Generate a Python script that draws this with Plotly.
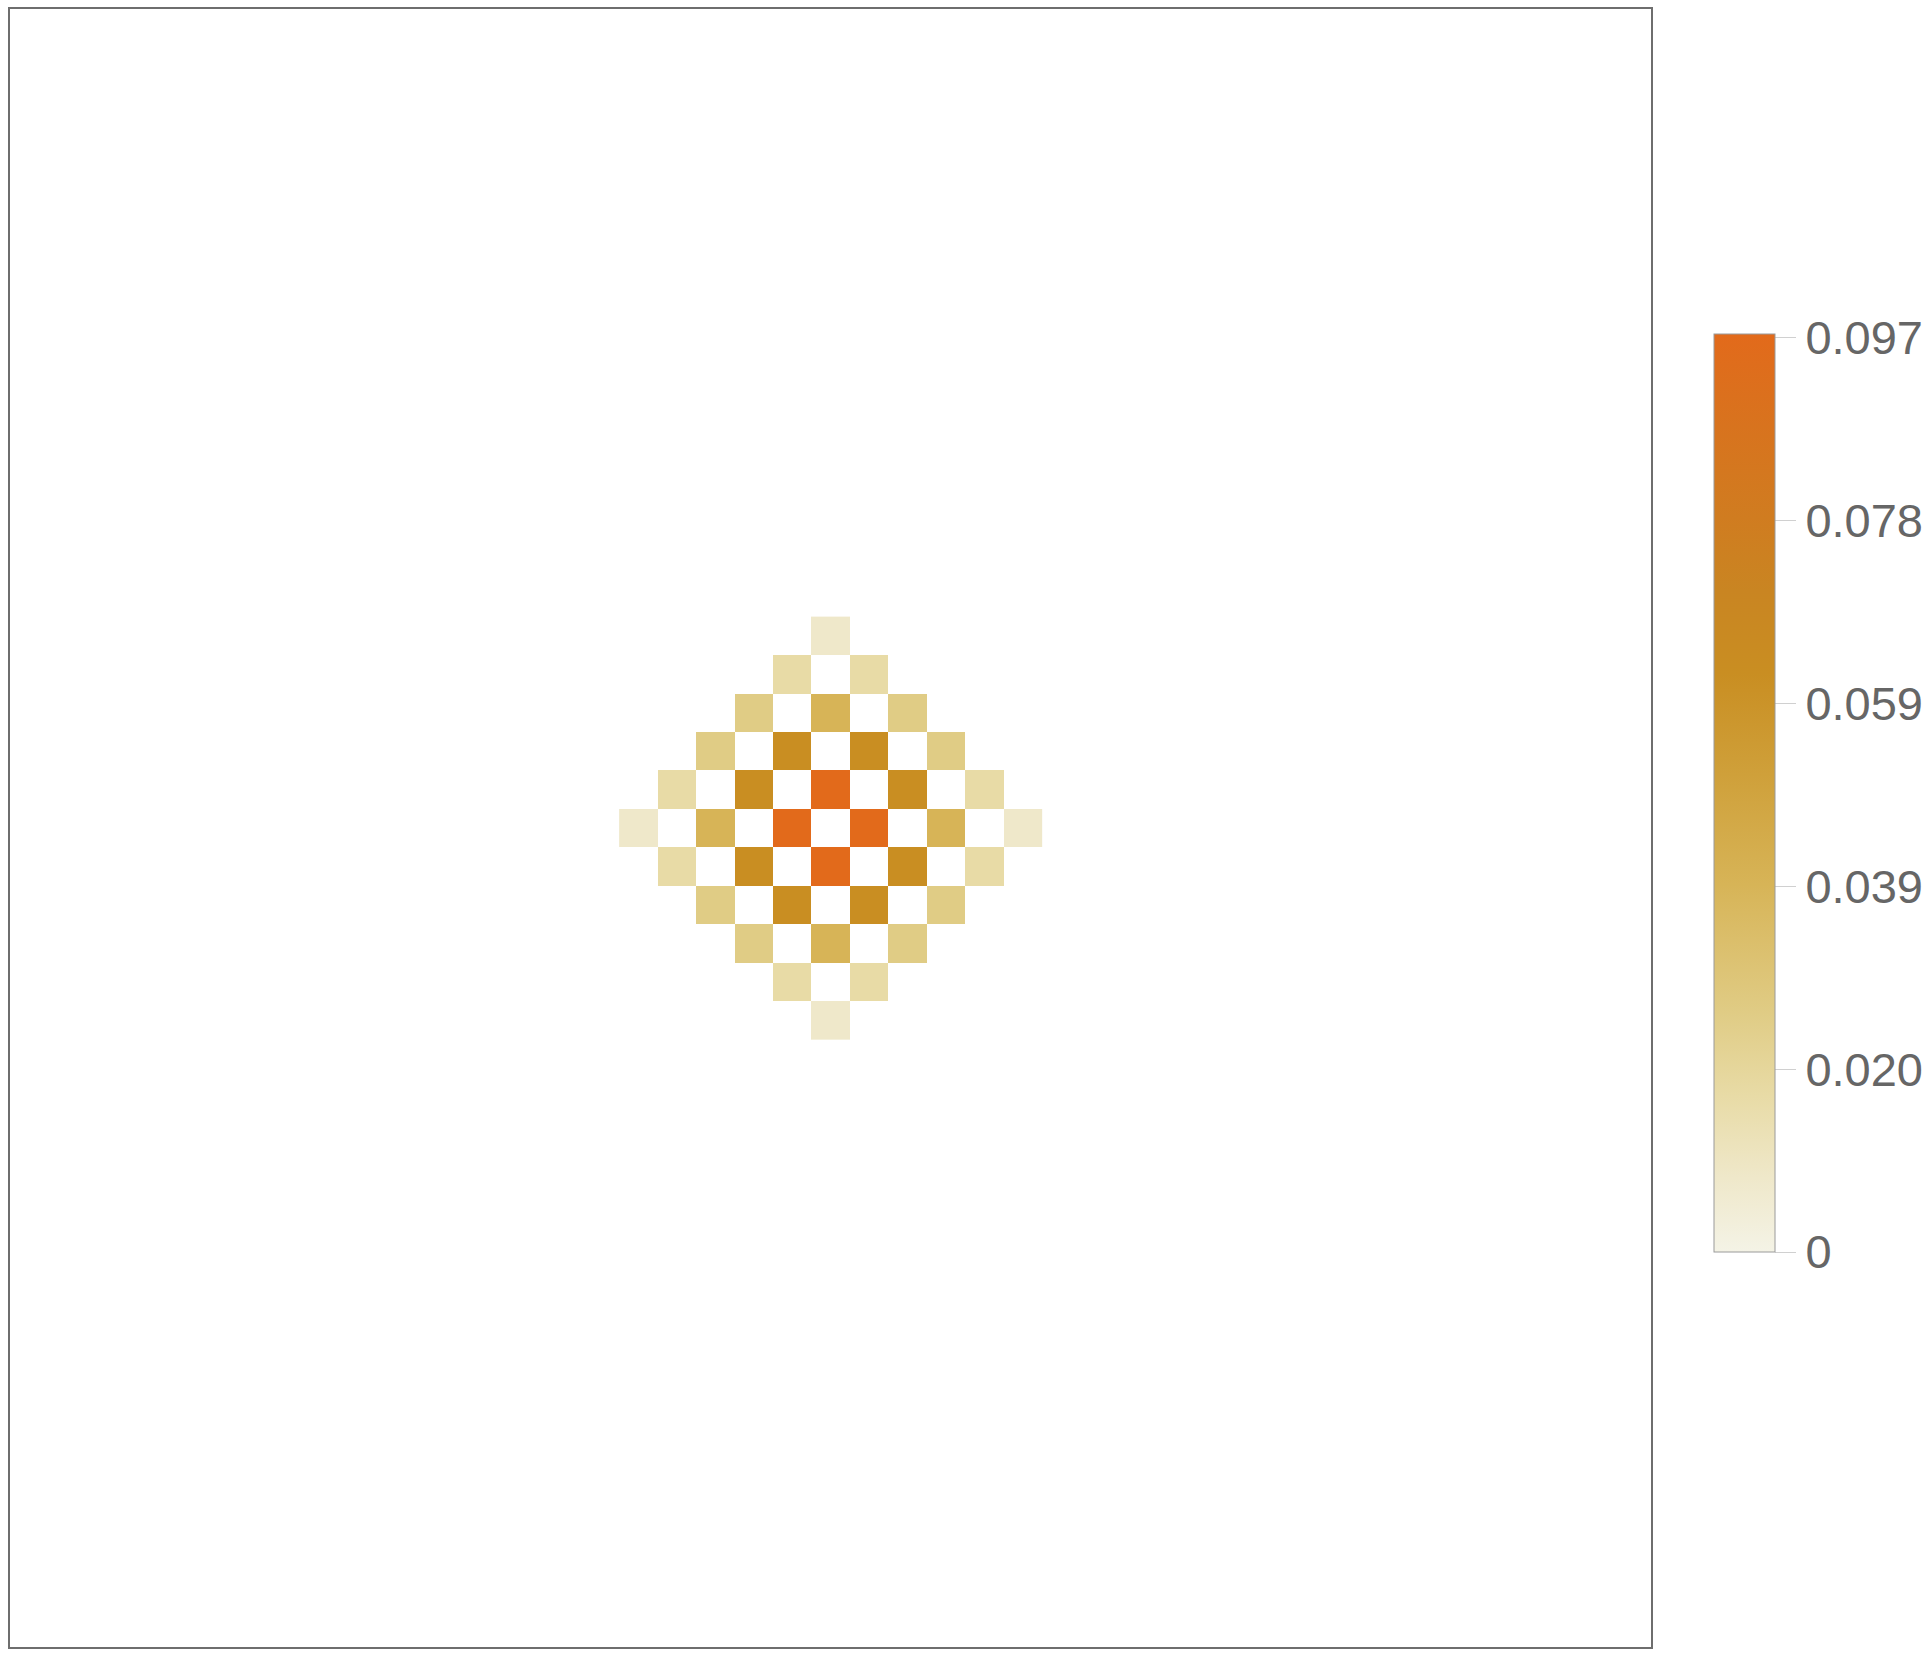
import plotly.graph_objects as go

# Lattice coordinates of the cells
x_coords = [-5, -4, -3, -2, -1, 0, 1, 2, 3, 4, 5]
y_coords = [5, 4, 3, 2, 1, 0, -1, -2, -3, -4, -5]

# Probability values per cell (rows top to bottom, y = 5 ... -5); 0 = empty cell
values = [
    [0, 0, 0, 0, 0, 0.0078, 0, 0, 0, 0, 0],
    [0, 0, 0, 0, 0.0166, 0, 0.0166, 0, 0, 0, 0],
    [0, 0, 0, 0.0254, 0, 0.0391, 0, 0.0254, 0, 0, 0],
    [0, 0, 0.0254, 0, 0.0616, 0, 0.0616, 0, 0.0254, 0, 0],
    [0, 0.0166, 0, 0.0616, 0, 0.0977, 0, 0.0616, 0, 0.0166, 0],
    [0.0078, 0, 0.0391, 0, 0.0977, 0, 0.0977, 0, 0.0391, 0, 0.0078],
    [0, 0.0166, 0, 0.0616, 0, 0.0977, 0, 0.0616, 0, 0.0166, 0],
    [0, 0, 0.0254, 0, 0.0616, 0, 0.0616, 0, 0.0254, 0, 0],
    [0, 0, 0, 0.0254, 0, 0.0391, 0, 0.0254, 0, 0, 0],
    [0, 0, 0, 0, 0.0166, 0, 0.0166, 0, 0, 0, 0],
    [0, 0, 0, 0, 0, 0.0078, 0, 0, 0, 0, 0],
]

tick_vals = [0, 0.01946, 0.03892, 0.05838, 0.07784, 0.0973]
tick_text = ["0", "0.020", "0.039", "0.059", "0.078", "0.097"]

z = [[v if v != 0 else None for v in row] for row in values]

colorscale = [
    [0.00, "#F4F3E6"],
    [0.08, "#EFE8CA"],
    [0.17, "#E8DBA6"],
    [0.26, "#E0CC85"],
    [0.40, "#D7B457"],
    [0.52, "#CFA03A"],
    [0.63, "#C98E22"],
    [0.72, "#C98522"],
    [0.80, "#D07C20"],
    [0.90, "#D8731E"],
    [1.00, "#E26A1B"],
]

W, H = 1929, 1660
L, T = 10, 9
PW, PH = 1641, 1638

fig = go.Figure(
    go.Heatmap(
        x=x_coords,
        y=y_coords,
        z=z,
        zmin=0,
        zmax=0.0977,
        colorscale=colorscale,
        xgap=0,
        ygap=0,
        hoverongaps=False,
        colorbar=dict(
            x=(1714 - L) / PW,
            xanchor="left",
            xpad=0,
            ypad=0,
            y=(T + PH - 334) / PH,
            yanchor="top",
            lenmode="pixels",
            len=918,
            thicknessmode="pixels",
            thickness=61,
            outlinecolor="#9a9a9a",
            outlinewidth=1,
            tickmode="array",
            tickvals=tick_vals,
            ticktext=tick_text,
            ticks="outside",
            ticklen=21,
            tickwidth=1,
            tickcolor="#d0d0d0",
            tickfont=dict(family="Liberation Sans, Arial, sans-serif", size=47, color="#666666"),
        ),
    )
)

cell = 38.43
half_x = PW / 2 / cell
half_y = PH / 2 / cell

fig.update_layout(
    width=W,
    height=H,
    margin=dict(l=L, r=W - L - PW, t=T, b=H - T - PH, autoexpand=False),
    paper_bgcolor="white",
    plot_bgcolor="white",
    xaxis=dict(
        range=[-half_x, half_x],
        showgrid=False,
        zeroline=False,
        showticklabels=False,
        ticks="",
        showline=True,
        mirror=True,
        linecolor="#6e6e6e",
        linewidth=2,
    ),
    yaxis=dict(
        range=[-half_y, half_y],
        showgrid=False,
        zeroline=False,
        showticklabels=False,
        ticks="",
        showline=True,
        mirror=True,
        linecolor="#6e6e6e",
        linewidth=2,
    ),
)

fig.write_html("out.html")
